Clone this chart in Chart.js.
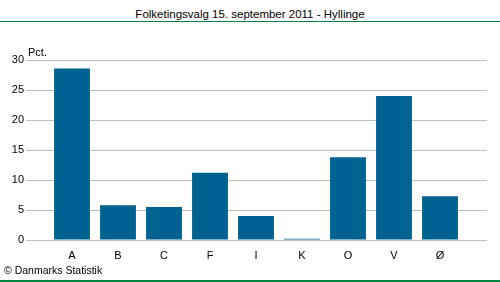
<!DOCTYPE html>
<html>
<head>
<meta charset="utf-8">
<script src="https://cdn.jsdelivr.net/npm/chart.js@4"></script>
<style>
  body { margin: 0; background: #fff; }
  #wrap { position: relative; width: 500px; height: 282px; overflow: hidden; font-family: "Liberation Sans", Arial, sans-serif; }
  #title { position: absolute; left: 0; top: 8px; width: 500px; text-align: center; font-size: 11.5px; color: #000; }
  #topline { position: absolute; left: 0; top: 21px; width: 500px; height: 1px; background: #00843f; }
  #botline { position: absolute; left: 0; top: 280px; width: 500px; height: 2px; background: #00843f; }
  #copy { position: absolute; left: 4px; top: 264px; font-size: 10.5px; color: #000; }
  canvas { position: absolute; left: 0; top: 0; }
</style>
</head>
<body>
<div id="wrap">
  <div id="title">Folketingsvalg 15. september 2011 - Hyllinge</div>
  <div id="topline"></div>
  <canvas id="chart" width="500" height="282"></canvas>
  <div id="copy">© Danmarks Statistik</div>
  <div id="botline"></div>
</div>
<script>
const partier = ['A', 'B', 'C', 'F', 'I', 'K', 'O', 'V', 'Ø'];
const procent = [28.6, 5.8, 5.5, 11.2, 4.0, 0.2, 13.8, 24.0, 7.3];
const yMin = 0;
const yMax = 30;
const yStep = 5;

const gridFarve = '#bdbdc9';
const font = { family: '"Liberation Sans", Arial, sans-serif', size: 11 };

// "Pct." over the y axis
const enhed = {
  id: 'enhed',
  afterDraw(chart) {
    const ctx = chart.ctx;
    const y = chart.scales.y.getPixelForValue(yMax);
    ctx.save();
    ctx.font = '11px ' + font.family;
    ctx.fillStyle = '#000';
    ctx.textBaseline = 'alphabetic';
    ctx.fillText('Pct.', 28, y - 4);
    ctx.restore();
  }
};

const ctx = document.getElementById('chart');
const valg = new Chart(ctx, {
  type: 'bar',
  data: {
    labels: partier,
    datasets: [{
      data: procent,
      backgroundColor: '#006291',
      categoryPercentage: 1,
      barPercentage: 0.78,
      yAxisID: 'y'
    }]
  },
  options: {
    responsive: false,
    animation: false,
    layout: { padding: { left: 0, right: 13, top: 60, bottom: 22 } },
    plugins: { legend: { display: false }, tooltip: { enabled: false } },
    scales: {
      x: {
        grid: { display: false, drawTicks: false },
        border: { display: false },
        ticks: { font: font, color: '#000', padding: 9 },
        afterFit(scale) { scale.height = 20; }
      },
      y: {
        min: yMin, max: yMax,
        border: { display: false },
        grid: { color: gridFarve, tickLength: 23, tickColor: gridFarve },
        ticks: { stepSize: yStep, font: font, color: '#000', padding: 2 },
        afterFit(scale) { scale.width = 49; }
      },
      y2: {
        position: 'right',
        min: yMin, max: yMax,
        border: { display: false },
        grid: { display: false },
        ticks: { display: false },
        afterFit(scale) { scale.width = 24; }
      }
    }
  },
  plugins: [enhed, {
    // continue the y gridlines to the right edge, like the reference
    id: 'gridHoejre',
    beforeDatasetsDraw(chart) {
      const c = chart.ctx, s = chart.scales.y, a = chart.chartArea;
      c.save();
      c.strokeStyle = gridFarve;
      c.lineWidth = 1;
      s.ticks.forEach(t => {
        const y = Math.round(s.getPixelForValue(t.value)) + 0.5;
        c.beginPath();
        c.moveTo(a.right, y);
        c.lineTo(a.right + 24, y);
        c.stroke();
      });
      c.restore();
    }
  }]
});
</script>
</body>
</html>
